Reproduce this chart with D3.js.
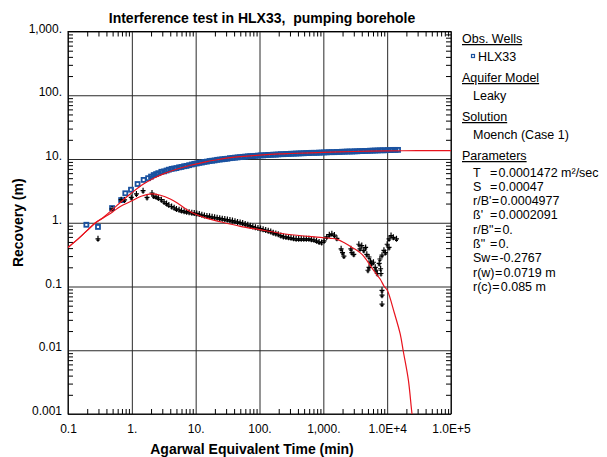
<!DOCTYPE html>
<html>
<head>
<meta charset="utf-8">
<title>Interference test in HLX33</title>
<script src="https://d3js.org/d3.v7.min.js"></script>
<style>
  body { margin: 0; background: #fff; }
  svg { font-family: Arial, "Liberation Sans", sans-serif; }
  .grid line { stroke: #2a2a2a; stroke-width: 1; }
  .grid path, .minor path, .labels path { display: none; }
  .minor line { stroke: #000; stroke-width: 1; }
  .labels text { font-size: 12px; fill: #000; }
  .legend text { font-size: 12.5px; fill: #000; }
  .title { font-size: 14px; font-weight: bold; }
  .axisTitle { font-size: 14px; font-weight: bold; }
</style>
</head>
<body>
<div id="chart"></div>
<script>
// observed recovery, HLX33 (blue squares)
var obsTime = [0.194, 0.295, 0.49, 0.68, 0.79, 0.97, 1.23, 1.53,
  1.8, 2.0, 2.2, 2.4, 2.6, 2.9, 3.2, 3.5, 3.8, 4.2,
  4.6, 5.0, 5.5, 6.0, 6.6, 7.2, 7.9, 8.7, 9.5, 10.4,
  11.4, 12.5, 13.7, 15.0, 16.5, 18.1, 19.8, 21.7, 23.8, 26.1,
  28.6, 31.4, 34.4, 37.7, 41.3, 45.3, 49.7, 54.5, 59.7, 65.5,
  71.8, 78.7, 86.3, 94.6, 104, 114, 125, 137, 150, 164,
  180, 197, 216, 237, 260, 285, 312, 342, 375, 411,
  451, 494, 542, 594, 651, 714, 783, 858, 940, 1030,
  1130, 1240, 1360, 1490, 1630, 1790, 1960, 2150, 2360, 2580,
  2830, 3110, 3410, 3730, 4090, 4490, 4920, 5390, 5910, 6480,
  7100, 7790, 8540, 9360, 10300, 11300, 12300, 13500, 14800];
var obsRecovery = [0.93, 0.86, 1.7, 2.27, 2.9, 3.3, 4.05, 4.7,
  5.0, 5.3, 5.6, 5.8, 6.0, 6.3, 6.4, 6.6, 6.8, 7.0,
  7.1, 7.2, 7.4, 7.5, 7.7, 7.8, 8.0, 8.2, 8.4, 8.5,
  8.7, 8.8, 9.0, 9.1, 9.3, 9.4, 9.5, 9.7, 9.8, 9.9,
  10.0, 10.1, 10.3, 10.4, 10.5, 10.6, 10.7, 10.8, 10.9, 11.0,
  11.1, 11.1, 11.2, 11.3, 11.4, 11.4, 11.5, 11.6, 11.6, 11.7,
  11.7, 11.8, 11.9, 11.9, 12.0, 12.0, 12.1, 12.1, 12.2, 12.2,
  12.3, 12.3, 12.4, 12.4, 12.5, 12.5, 12.5, 12.6, 12.6, 12.7,
  12.7, 12.8, 12.8, 12.8, 12.9, 12.9, 13.0, 13.0, 13.1, 13.1,
  13.1, 13.2, 13.2, 13.3, 13.3, 13.4, 13.4, 13.5, 13.5, 13.6,
  13.6, 13.7, 13.7, 13.7, 13.8, 13.8, 13.9, 13.9, 13.9];

// derivative of recovery (black crosses)
var derivTime = [0.295, 0.49, 0.68, 0.77, 0.98, 1.18, 1.5, 1.73, 2.07,
  2.2, 2.4, 2.6, 2.9, 3.2, 3.5, 3.8, 4.2,
  4.6, 5.0, 5.5, 6.0, 6.6, 7.2, 7.9, 8.7, 9.5, 10.4,
  11.4, 12.5, 13.7, 15.0, 16.5, 18.1, 19.8, 21.7, 23.8, 26.1,
  28.6, 31.4, 34.4, 37.7, 41.3, 45.3, 49.7, 54.5, 59.7, 65.5,
  71.8, 78.7, 86.3, 94.6, 104, 114, 125, 137, 150, 164,
  180, 197, 216, 237, 260, 285, 312, 342, 375, 411,
  451, 494, 542, 594, 651, 714, 783, 858, 940, 1030,
  1130, 1240, 1360, 1490, 1630,
  1900, 2000, 2100, 2700, 2800, 3000, 3600, 3750, 4000, 4300, 4600, 4800,
  5000, 5200, 5200, 5500, 5700, 6100, 6500, 6700, 7000, 7500, 7700, 7900,
  8000, 8300, 8300, 8300, 8300, 8900, 9400, 10000, 10700, 10700, 11500, 12500, 14000];
var derivValue = [0.56, 1.65, 2.3, 2.28, 2.5, 2.83, 3.18, 2.5, 2.93,
  2.62, 2.55, 2.45, 2.3, 2.12, 2.0, 1.9, 1.8,
  1.72, 1.65, 1.6, 1.55, 1.52, 1.49, 1.46, 1.44, 1.42, 1.4,
  1.37, 1.33, 1.3, 1.28, 1.26, 1.24, 1.22, 1.2, 1.18, 1.16,
  1.14, 1.12, 1.1, 1.08, 1.06, 1.03, 1.01, 0.99, 0.96, 0.93,
  0.9, 0.87, 0.85, 0.83, 0.81, 0.79, 0.77, 0.75, 0.73, 0.7,
  0.68, 0.66, 0.63, 0.61, 0.6, 0.59, 0.58, 0.57, 0.56, 0.56,
  0.56, 0.56, 0.56, 0.56, 0.55, 0.54, 0.52, 0.5, 0.49, 0.52,
  0.6, 0.65, 0.67, 0.64, 0.57,
  0.39, 0.34, 0.30, 0.39, 0.34, 0.32, 0.46, 0.39, 0.44, 0.37, 0.41, 0.32,
  0.18, 0.29, 0.20, 0.25, 0.23, 0.24, 0.20, 0.18, 0.16, 0.23, 0.27, 0.19,
  0.16, 0.31, 0.087, 0.073, 0.053, 0.37, 0.34, 0.46, 0.41, 0.56, 0.63, 0.59, 0.56];

// Moench (Case 1) fitted curves (red)
var fitTime = [0.1, 0.15, 0.2, 0.27, 0.36, 0.5, 0.7, 1.0, 1.5, 2.2, 3.2, 5, 7.3, 10,
  15, 24, 35, 50, 100, 200, 300, 1000, 3000, 10000, 30000, 100000];
var fitRecovery = [0.41, 0.58, 0.76, 1.0, 1.22, 1.62, 2.2, 2.95, 4.0, 5.0, 5.9, 6.9, 7.7, 8.3,
  9.1, 9.9, 10.5, 10.9, 11.5, 12.0, 12.2, 12.7, 13.1, 13.4, 13.5, 13.5];
var fitDerivTime = [0.1, 0.15, 0.2, 0.27, 0.36, 0.5, 0.66, 0.95, 1.4, 2.0, 2.8, 4.0, 5.5, 7.3,
  10, 15, 24, 50, 100, 270, 900, 1300, 1640, 2100, 2700, 3750, 4400, 6100, 7800, 9000,
  10000, 13000, 16000, 18000, 21500, 24500, 27000];
var fitDeriv = [0.41, 0.58, 0.76, 1.0, 1.2, 1.48, 1.8, 2.15, 2.6, 2.83, 2.7, 2.36, 1.95, 1.6,
  1.36, 1.17, 1.04, 0.88, 0.78, 0.66, 0.59, 0.57, 0.55, 0.49, 0.42, 0.34, 0.29, 0.18, 0.13, 0.1,
  0.088, 0.038, 0.018, 0.0093, 0.0034, 0.001, 0.0005];

var xDecades = [0.1, 1, 10, 100, 1000, 10000, 100000];
var xTickLabels = ['0.1', '1.', '10.', '100.', '1,000.', '1.0E+4', '1.0E+5'];
var yDecades = [0.001, 0.01, 0.1, 1, 10, 100, 1000];
var yTickLabels = ['0.001', '0.01', '0.1', '1.', '10.', '100.', '1,000.'];

var paramNames = ['T', 'S', "r/B'", "ß'", 'r/B"', 'ß"', 'Sw', 'r(w)', 'r(c)'];
var paramValues = ['0.0001472 m\u00B2/sec', '0.00047', '0.0004977', '0.0002091', '0.',
  '0.', '-0.2767', '0.0719 m', '0.085 m'];

var width = 607, height = 457;
var plotLeft = 68, plotRight = 451, plotTop = 31.5, plotBottom = 414;

var svg = d3.select('#chart').append('svg')
  .attr('width', width)
  .attr('height', height);

var x = d3.scaleLog().domain([0.1, 100000]).range([plotLeft, plotRight]);
var y = d3.scaleLog().domain([0.001, 1000]).range([plotBottom, plotTop]);

// minor ticks (2..9 in every decade) from the scales
var xMinor = x.ticks().filter(function(d) { return xDecades.indexOf(d) < 0; });
var yMinor = y.ticks().filter(function(d) { return yDecades.indexOf(d) < 0; });

// gridlines
svg.append('g').attr('class', 'grid')
  .attr('transform', 'translate(0,' + plotBottom + ')')
  .call(d3.axisBottom(x).tickValues(xDecades).tickSize(-(plotBottom - plotTop)).tickFormat(''));
svg.append('g').attr('class', 'grid')
  .attr('transform', 'translate(' + plotLeft + ',0)')
  .call(d3.axisLeft(y).tickValues(yDecades).tickSize(-(plotRight - plotLeft)).tickFormat(''));

// inside ticks on all four sides
svg.append('g').attr('class', 'minor')
  .attr('transform', 'translate(0,' + plotBottom + ')')
  .call(d3.axisBottom(x).tickValues(xMinor).tickSize(-5).tickFormat(''));
svg.append('g').attr('class', 'minor')
  .attr('transform', 'translate(0,' + plotTop + ')')
  .call(d3.axisTop(x).tickValues(xMinor).tickSize(-5).tickFormat(''));
svg.append('g').attr('class', 'minor')
  .attr('transform', 'translate(' + plotLeft + ',0)')
  .call(d3.axisLeft(y).tickValues(yMinor).tickSize(-5).tickFormat(''));
svg.append('g').attr('class', 'minor')
  .attr('transform', 'translate(' + plotRight + ',0)')
  .call(d3.axisRight(y).tickValues(yMinor).tickSize(-5).tickFormat(''));

// tick labels
svg.append('g').attr('class', 'labels')
  .attr('transform', 'translate(0,' + plotBottom + ')')
  .call(d3.axisBottom(x).tickValues(xDecades).tickSize(0).tickPadding(10)
    .tickFormat(function(d, i) { return xTickLabels[i]; }))
  .selectAll('text').attr('font-family', null).attr('font-size', null);
svg.append('g').attr('class', 'labels')
  .attr('transform', 'translate(' + plotLeft + ',0)')
  .call(d3.axisLeft(y).tickValues(yDecades).tickSize(0).tickPadding(6)
    .tickFormat(function(d, i) { return yTickLabels[i]; }))
  .selectAll('text').attr('dy', '0.05em').attr('font-family', null).attr('font-size', null);

// frame
svg.append('rect')
  .attr('x', plotLeft).attr('y', plotTop)
  .attr('width', plotRight - plotLeft).attr('height', plotBottom - plotTop)
  .attr('fill', 'none').attr('stroke', '#000').attr('stroke-width', 1);

svg.append('clipPath').attr('id', 'plotClip')
  .append('rect')
  .attr('x', plotLeft).attr('y', plotTop)
  .attr('width', plotRight - plotLeft).attr('height', plotBottom - plotTop);

var plot = svg.append('g').attr('clip-path', 'url(#plotClip)');

// observed squares
plot.selectAll('.obs')
  .data(d3.zip(obsTime, obsRecovery))
  .enter().append('rect')
  .attr('class', 'obs')
  .attr('x', function(d) { return x(d[0]) - 2; })
  .attr('y', function(d) { return y(d[1]) - 2; })
  .attr('width', 4).attr('height', 4)
  .attr('fill', 'none')
  .attr('stroke', '#1a52a0')
  .attr('stroke-width', 1.8);

// derivative crosses
plot.selectAll('.deriv')
  .data(d3.zip(derivTime, derivValue))
  .enter().append('path')
  .attr('class', 'deriv')
  .attr('transform', function(d) { return 'translate(' + x(d[0]) + ',' + y(d[1]) + ')'; })
  .attr('d', 'M-2.5,0H2.5M0,-3V3M-1.5,1.5H1.5')
  .attr('fill', 'none')
  .attr('stroke', '#000')
  .attr('stroke-width', 1.2);

// fitted curves
var line = d3.line()
  .x(function(d) { return x(d[0]); })
  .y(function(d) { return y(d[1]); })
  .curve(d3.curveCatmullRom);

plot.append('path')
  .datum(d3.zip(fitTime, fitRecovery))
  .attr('d', line)
  .attr('fill', 'none').attr('stroke', '#e8131d').attr('stroke-width', 1.2);
plot.append('path')
  .datum(d3.zip(fitDerivTime, fitDeriv))
  .attr('d', line)
  .attr('fill', 'none').attr('stroke', '#e8131d').attr('stroke-width', 1.2);

// titles
svg.append('text').attr('class', 'title')
  .attr('x', 262).attr('y', 23)
  .attr('text-anchor', 'middle')
  .text('Interference test in HLX33,\u00A0\u00A0pumping borehole');

svg.append('text').attr('class', 'axisTitle')
  .attr('x', 252).attr('y', 454)
  .attr('text-anchor', 'middle')
  .text('Agarwal Equivalent Time (min)');

svg.append('text').attr('class', 'axisTitle')
  .attr('transform', 'translate(23,' + ((plotTop + plotBottom) / 2) + ') rotate(-90)')
  .attr('text-anchor', 'middle')
  .text('Recovery (m)');

// legend panel
var legend = svg.append('g').attr('class', 'legend');
var headX = 462, subX = 473;

function heading(txt, yy) {
  legend.append('text').attr('x', headX).attr('y', yy)
    .attr('text-decoration', 'underline').text(txt);
}
function item(txt, yy, xx) {
  legend.append('text').attr('x', xx || subX).attr('y', yy).text(txt);
}

heading('Obs. Wells', 43);
legend.append('rect')
  .attr('x', 471.5).attr('y', 54.5).attr('width', 3).attr('height', 3)
  .attr('fill', '#fff').attr('stroke', '#1a52a0').attr('stroke-width', 1.2);
item('HLX33', 60.5, 478);
heading('Aquifer Model', 82);
item('Leaky', 99.5);
heading('Solution', 121);
item('Moench (Case 1)', 138.5);
heading('Parameters', 160);

var rows = legend.selectAll('.param')
  .data(d3.zip(paramNames, paramValues))
  .enter().append('text')
  .attr('class', 'param')
  .attr('y', function(d, i) { return 176.5 + i * 14.3; });
rows.each(function(d) {
  var row = d3.select(this);
  var name = row.append('tspan').attr('x', subX).text(d[0]);
  var eqX = Math.max(490, subX + name.node().getComputedTextLength() + 0.5);
  row.append('tspan').attr('x', eqX).text('=');
  row.append('tspan').attr('x', eqX + 8.5).text(d[1]);
});
</script>
</body>
</html>
